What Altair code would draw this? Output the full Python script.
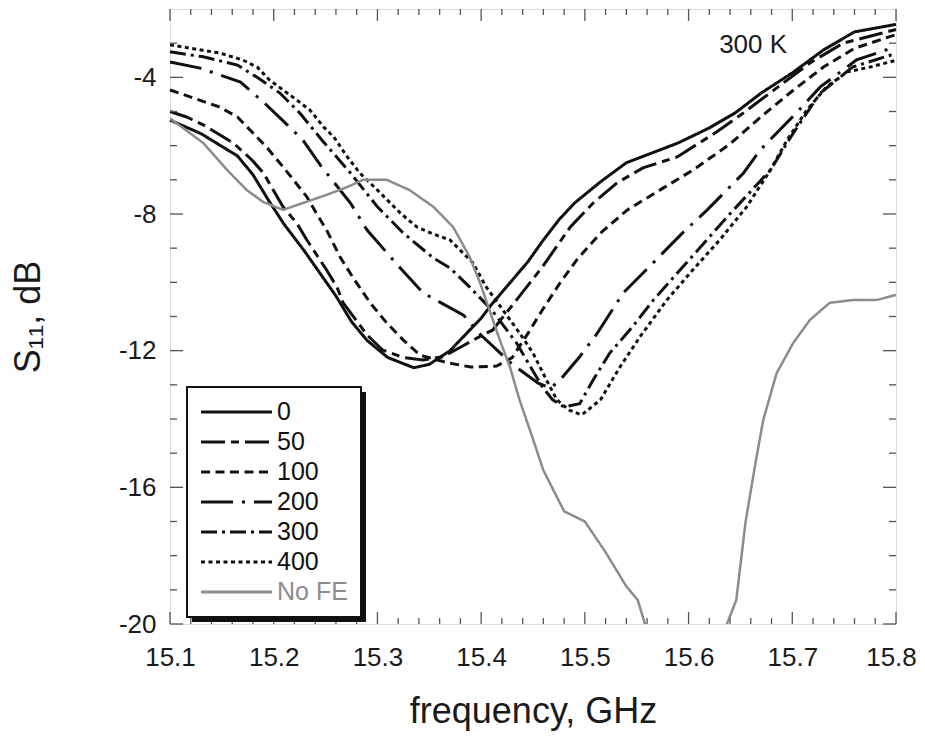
import altair as alt
import pandas as pd

# ---------------- data ----------------
series_names = ["0", "50", "100", "200", "300", "400", "No FE"]

f_0 = [15.10, 15.13, 15.165, 15.18, 15.195, 15.21, 15.23, 15.245, 15.26, 15.275, 15.29, 15.31,
       15.335, 15.35, 15.37, 15.40, 15.41, 15.445, 15.46, 15.475, 15.49, 15.515, 15.54, 15.565,
       15.59, 15.62, 15.645, 15.67, 15.70, 15.73, 15.76, 15.80]
s_0 = [-5.25, -5.65, -6.3, -6.85, -7.6, -8.3, -9.1, -9.75, -10.4, -11.15, -11.7, -12.2,
       -12.5, -12.4, -12.0, -11.05, -10.65, -9.4, -8.76, -8.17, -7.68, -7.06, -6.5, -6.21,
       -5.92, -5.48, -5.04, -4.46, -3.87, -3.2, -2.67, -2.45]

f_50 = [15.10, 15.116, 15.132, 15.161, 15.179, 15.19, 15.209, 15.222, 15.232, 15.251, 15.261,
        15.267, 15.29, 15.305, 15.325, 15.344, 15.363, 15.38, 15.405, 15.411, 15.434, 15.459,
        15.486, 15.508, 15.531, 15.556, 15.589, 15.627, 15.653, 15.685, 15.717, 15.749, 15.80]
s_50 = [-5.0, -5.16, -5.39, -5.92, -6.42, -6.8, -7.79, -8.26, -8.76, -9.64, -10.14,
        -10.6, -11.54, -11.98, -12.2, -12.27, -12.18, -11.9, -11.48, -11.4, -10.52, -9.55,
        -8.38, -7.68, -7.09, -6.65, -6.33, -5.6, -5.04, -4.31, -3.58, -3.0, -2.6]

f_100 = [15.10, 15.148, 15.165, 15.18, 15.193, 15.206, 15.219, 15.232, 15.241, 15.251, 15.264,
         15.276, 15.293, 15.309, 15.325, 15.341, 15.367, 15.39, 15.415, 15.43, 15.445, 15.459,
         15.476, 15.492, 15.515, 15.541, 15.575, 15.605, 15.64, 15.67, 15.70, 15.73, 15.76, 15.80]
s_100 = [-4.37, -4.87, -5.16, -5.63, -6.04, -6.51, -7.0, -7.5, -7.97, -8.47, -9.26,
         -9.84, -10.6, -11.19, -11.69, -12.13, -12.35, -12.48, -12.45, -12.2, -11.5, -10.81,
         -10.02, -9.35, -8.56, -7.88, -7.25, -6.7, -5.95, -5.15, -4.4, -3.7, -3.15, -2.75]

f_200 = [15.10, 15.129, 15.168, 15.19, 15.228, 15.245, 15.274, 15.29, 15.322, 15.344, 15.383,
         15.40, 15.43, 15.455, 15.467, 15.476, 15.495, 15.512, 15.537, 15.559, 15.594, 15.618,
         15.653, 15.669, 15.704, 15.727, 15.762, 15.80]
s_200 = [-3.55, -3.73, -4.14, -4.72, -5.83, -6.57, -7.68, -8.47, -9.58, -10.31, -10.96,
         -11.55, -12.4, -12.95, -13.1, -12.86, -12.18, -11.49, -10.31, -9.64, -8.56, -7.88,
         -6.8, -6.13, -5.04, -4.28, -3.49, -3.1]

f_300 = [15.10, 15.132, 15.165, 15.184, 15.206, 15.225, 15.248, 15.274, 15.30, 15.325, 15.354,
         15.37, 15.389, 15.41, 15.434, 15.459, 15.469, 15.48, 15.495, 15.508, 15.524, 15.546,
         15.566, 15.598, 15.637, 15.679, 15.701, 15.727, 15.758, 15.80]
s_300 = [-3.25, -3.4, -3.64, -4.0, -4.46, -5.04, -5.89, -6.8, -7.79, -8.56, -9.29,
         -9.58, -10.14, -10.8, -11.77, -13.06, -13.44, -13.65, -13.55, -12.86, -12.07, -11.3,
         -10.52, -9.43, -8.09, -6.71, -5.63, -4.46, -3.7, -3.3]

f_400 = [15.10, 15.13, 15.148, 15.17, 15.184, 15.196, 15.209, 15.222, 15.235, 15.248, 15.258,
         15.271, 15.283, 15.30, 15.322, 15.338, 15.355, 15.37, 15.392, 15.405, 15.421, 15.437,
         15.45, 15.463, 15.473, 15.485, 15.497, 15.515, 15.534, 15.553, 15.579, 15.604, 15.63,
         15.656, 15.679, 15.695, 15.714, 15.733, 15.753, 15.775, 15.80]
s_400 = [-3.05, -3.2, -3.29, -3.49, -3.7, -4.08, -4.37, -4.66, -4.96, -5.45, -5.75,
         -6.33, -6.8, -7.3, -7.97, -8.38, -8.6, -8.76, -9.43, -10.14, -10.81, -11.48,
         -12.07, -12.86, -13.44, -13.74, -13.88, -13.44, -12.47, -11.6, -10.52, -9.64, -8.76,
         -7.79, -6.71, -5.83, -4.96, -4.28, -3.84, -3.7, -3.5]

f_nofe = [15.10, 15.132, 15.155, 15.174, 15.19, 15.209, 15.228, 15.251, 15.271, 15.286, 15.309,
          15.331, 15.354, 15.373, 15.389, 15.399, 15.408, 15.418, 15.428, 15.437, 15.447, 15.46,
          15.48, 15.50, 15.52, 15.54, 15.551, 15.558, 15.565, 15.63, 15.637, 15.646, 15.655,
          15.665, 15.672, 15.685, 15.701, 15.717, 15.736, 15.758, 15.781, 15.80]
s_nofe = [-5.2, -5.92, -6.71, -7.3, -7.65, -7.88, -7.68, -7.44, -7.21, -7.0, -7.0,
          -7.3, -7.79, -8.38, -9.26, -10.02, -10.81, -11.69, -12.5, -13.44, -14.32, -15.5,
          -16.7, -17.0, -17.9, -18.9, -19.3, -20.0, -20.6, -20.6, -20.0, -19.3, -17.0,
          -15.2, -14.03, -12.65, -11.77, -11.1, -10.6, -10.52, -10.52, -10.37]

x_major = [15.1, 15.2, 15.3, 15.4, 15.5, 15.6, 15.7, 15.8]
x_minor = [round(15.1 + 0.02 * i, 2) for i in range(36) if i % 5 != 0]
y_major = [-20, -16, -12, -8, -4]
y_minor = [v for v in range(-19, -2) if v % 4 != 0]

annotation_text = ["300 K"]
annotation_x = [15.695]
annotation_y = [-3.29]

# ---------------- styles ----------------
dash_patterns = [[1, 0], [24, 6, 8, 6], [9, 5.5], [32, 9, 3, 9], [16, 5, 3, 5], [4, 3.5], [1, 0]]
line_colors = ["#111111", "#111111", "#111111", "#111111", "#111111", "#111111", "#8c8c8c"]
FONT = "Liberation Sans"
W, H = 726, 615
FRAME = "#555555"

curves = [("0", f_0, s_0), ("50", f_50, s_50), ("100", f_100, s_100), ("200", f_200, s_200),
          ("300", f_300, s_300), ("400", f_400, s_400), ("No FE", f_nofe, s_nofe)]
rows = []
for name, fs, ss in curves:
    for f, s in zip(fs, ss):
        rows.append({"series": name, "freq": f, "s11": s})
df = pd.DataFrame(rows)
df_black = df[df.series != "No FE"]
df_gray = df[df.series == "No FE"]

xscale = alt.Scale(domain=[15.1, 15.8], nice=False, zero=False)
yscale = alt.Scale(domain=[-20, -2], nice=False, zero=False)
dash_scale = alt.Scale(domain=series_names, range=dash_patterns)
color_scale = alt.Scale(domain=series_names, range=line_colors)

x_axis = alt.Axis(values=x_major, format=".1f", title="frequency, GHz", ticks=False, domain=False,
                  grid=False, labelFlush=False, labelFont=FONT, labelFontSize=26,
                  labelOffset={"condition": {"test": "datum.value > 15.75", "value": -5}, "value": 0},
                  labelColor="#1a1a1a", labelPadding=20, titleFont=FONT, titleFontSize=36,
                  titleFontWeight="normal", titleColor="#1a1a1a", titleX=W / 2, titleY=98,
                  titleBaseline="alphabetic", titleAlign="center")
y_axis = alt.Axis(values=y_major, labelExpr="'' + datum.value", title="S₁₁, dB", ticks=False,
                  domain=False, grid=False, labelFlush=False, labelFont=FONT, labelFontSize=26,
                  labelColor="#1a1a1a", labelPadding=14, titleFont=FONT, titleFontSize=36,
                  titleFontWeight="normal", titleColor="#1a1a1a", titleX=-142, titleY=H / 2,
                  titleAngle=270, titleBaseline="middle", titleAlign="center")

X = alt.X("freq:Q", scale=xscale, axis=x_axis)
Y = alt.Y("s11:Q", scale=yscale, axis=y_axis)

black_lines = alt.Chart(df_black).mark_line(strokeWidth=3).encode(
    x=X, y=Y,
    color=alt.Color("series:N", scale=color_scale, legend=None),
    strokeDash=alt.StrokeDash("series:N", scale=dash_scale, legend=None),
    detail="series:N",
)

gray_line = alt.Chart(df_gray).mark_line(strokeWidth=2.5, clip=True).encode(
    x=X, y=Y,
    color=alt.Color("series:N", scale=color_scale, legend=None),
    strokeDash=alt.StrokeDash("series:N", scale=dash_scale, legend=None),
)

tick_style = dict(color=FRAME, strokeWidth=1.3)
xmaj = pd.DataFrame({"freq": x_major})
xmin = pd.DataFrame({"freq": x_minor})
ymaj = pd.DataFrame({"s11": y_major})
ymin = pd.DataFrame({"s11": y_minor})


def xticks(data, length):
    bottom = alt.Chart(data).mark_rule(**tick_style).encode(
        x=X, y=alt.value(H), y2=alt.value(H - length))
    top = alt.Chart(data).mark_rule(**tick_style).encode(
        x=X, y=alt.value(0), y2=alt.value(length))
    return [bottom, top]


def yticks(data, length):
    left = alt.Chart(data).mark_rule(**tick_style).encode(
        y=Y, x=alt.value(0), x2=alt.value(length))
    right = alt.Chart(data).mark_rule(**tick_style).encode(
        y=Y, x=alt.value(W), x2=alt.value(W - length))
    return [left, right]


ticks = xticks(xmaj, 12) + xticks(xmin, 6) + yticks(ymaj, 13) + yticks(ymin, 7)

ann = pd.DataFrame({"freq": annotation_x, "s11": annotation_y, "label": annotation_text})
annotation = alt.Chart(ann).mark_text(align="right", baseline="alphabetic", font=FONT,
                                      fontSize=26, color="#1a1a1a").encode(
    x=X, y=Y, text="label:N",
)

main = alt.layer(black_lines, gray_line, *ticks, annotation)

# ---------------- legend ----------------
one = pd.DataFrame({"k": [0]})
shadow = alt.Chart(one).mark_rect(fill="#111111").encode(
    x=alt.value(22), x2=alt.value(196), y=alt.value(383), y2=alt.value(613))
box = alt.Chart(one).mark_rect(fill="white", stroke="#111111", strokeWidth=2).encode(
    x=alt.value(17), x2=alt.value(191), y=alt.value(378), y2=alt.value(608))

leg_df = pd.DataFrame({"series": series_names})
leg_y = alt.Y("series:N", sort=series_names,
              scale=alt.Scale(type="point", domain=series_names, range=[403, 583], padding=0),
              axis=None)
leg_lines = alt.Chart(leg_df).mark_rule(strokeWidth=3).encode(
    x=alt.value(31), x2=alt.value(102), y=leg_y,
    color=alt.Color("series:N", scale=color_scale, legend=None),
    strokeDash=alt.StrokeDash("series:N", scale=dash_scale, legend=None),
)
leg_text = alt.Chart(leg_df).mark_text(align="left", baseline="middle", font=FONT,
                                       fontSize=25).encode(
    x=alt.value(107), y=leg_y, text="series:N",
    color=alt.Color("series:N", scale=color_scale, legend=None),
)
legend = alt.layer(shadow, box, leg_lines, leg_text)

chart = alt.layer(main, legend).resolve_scale(y="independent").properties(
    width=W, height=H,
    padding={"left": 162, "top": 1, "right": 21, "bottom": 109},
    autosize=alt.AutoSizeParams(type="none"),
).configure_view(stroke=FRAME, strokeWidth=1.5).configure(background="white")

chart.save("out.html", embed_options={"renderer": "svg", "actions": False})
